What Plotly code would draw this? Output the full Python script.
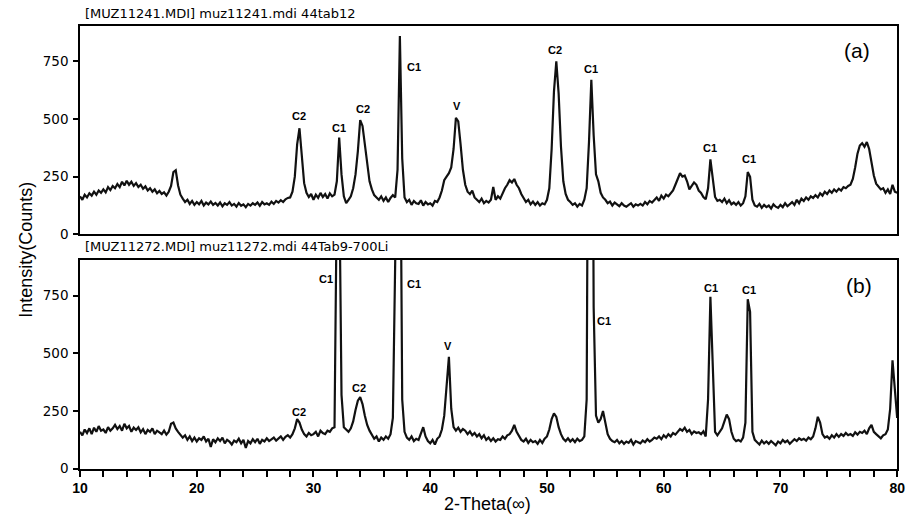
import plotly.graph_objects as go

# ---------------- data ----------------
theta_start = 10.0
theta_step = 0.2

# pattern (a): [MUZ11241.MDI] muz11241.mdi 44tab12   (one row per degree: x.0 x.2 x.4 x.6 x.8)
counts_a = [
    165, 150, 172, 160, 178,   # 10
    168, 185, 172, 190, 180,   # 11
    195, 182, 205, 192, 210,   # 12
    200, 218, 205, 228, 212,   # 13
    232, 215, 228, 210, 222,   # 14
    205, 215, 198, 208, 190,   # 15
    200, 185, 195, 178, 188,   # 16
    175, 182, 168, 185, 210,   # 17
    270, 278, 212, 172, 155,   # 18
    140, 150, 132, 145, 128,   # 19
    140, 130, 145, 125, 138,   # 20
    130, 142, 128, 136, 125,   # 21
    138, 122, 135, 128, 140,   # 22
    125, 132, 120, 136, 124,   # 23
    130, 118, 132, 125, 135,   # 24
    128, 138, 124, 140, 130,   # 25
    135, 128, 142, 132, 145,   # 26
    138, 148, 140, 152, 158,   # 27
    160, 185, 250, 390, 460,   # 28
    335, 222, 180, 162, 175,   # 29
    150, 172, 158, 180, 162,   # 30
    175, 155, 178, 165, 172,   # 31
    230, 420, 260, 165, 135,   # 32
    150, 165, 200, 260, 360,   # 33
    495, 470, 390, 300, 230,   # 34
    195, 170, 160, 150, 165,   # 35
    145, 160, 140, 158, 170,   # 36
    160, 280, 860, 330, 160,   # 37
    140, 150, 128, 145, 135,   # 38
    132, 148, 125, 140, 130,   # 39
    135, 125, 145, 140, 160,   # 40
    190, 235, 250, 265, 290,   # 41
    370, 505, 490, 390, 280,   # 42
    215, 185, 175, 190, 160,   # 43
    150, 140, 155, 135, 145,   # 44
    138, 150, 205, 150, 165,   # 45
    155, 180, 200, 215, 235,   # 46
    225, 240, 215, 200, 175,   # 47
    160, 140, 150, 130, 142,   # 48
    128, 140, 125, 135, 130,   # 49
    150, 200, 370, 620, 750,   # 50
    610, 380, 230, 175, 150,   # 51
    140, 128, 135, 120, 132,   # 52
    125, 150, 200, 400, 670,   # 53
    430, 260, 230, 180, 160,   # 54
    150, 135, 142, 125, 138,   # 55
    130, 122, 135, 125, 120,   # 56
    128, 135, 120, 130, 125,   # 57
    132, 125, 140, 130, 145,   # 58
    138, 150, 160, 145, 168,   # 59
    155, 172, 165, 180, 190,   # 60
    215, 240, 265, 250, 255,   # 61
    230, 195, 210, 225, 215,   # 62
    190, 180, 162, 152, 200,   # 63
    325, 230, 162, 145, 150,   # 64
    140, 155, 135, 148, 130,   # 65
    138, 128, 140, 125, 135,   # 66
    165, 270, 250, 150, 125,   # 67
    120, 132, 115, 128, 118,   # 68
    125, 112, 130, 120, 115,   # 69
    128, 118, 135, 122, 130,   # 70
    140, 128, 150, 135, 155,   # 71
    145, 160, 150, 165, 158,   # 72
    170, 160, 178, 168, 185,   # 73
    175, 190, 180, 195, 185,   # 74
    198, 190, 205, 200, 210,   # 75
    215, 240, 290, 350, 385,   # 76
    395, 380, 400, 370, 310,   # 77
    255, 220, 205, 195, 200,   # 78
    180, 195, 175, 215, 185,   # 79
    180,                       # 80
]

# pattern (b): [MUZ11272.MDI] muz11272.mdi 44Tab9-700Li
counts_b = [
    160, 145, 170, 155, 175,   # 10
    150, 178, 160, 185, 165,   # 11
    170, 155, 180, 165, 175,   # 12
    190, 172, 185, 165, 195,   # 13
    175, 185, 160, 178, 168,   # 14
    180, 158, 172, 150, 168,   # 15
    160, 175, 150, 165, 158,   # 16
    150, 165, 148, 160, 195,   # 17
    200, 175, 160, 148, 135,   # 18
    145, 125, 140, 120, 135,   # 19
    118, 132, 125, 140, 118,   # 20
    130, 95, 128, 115, 132,    # 21
    120, 135, 110, 125, 118,   # 22
    105, 122, 115, 130, 110,   # 23
    125, 90, 120, 110, 128,    # 24
    115, 130, 108, 125, 118,   # 25
    132, 120, 128, 135, 122,   # 26
    130, 140, 125, 138, 145,   # 27
    135, 150, 175, 215, 200,   # 28
    170, 150, 140, 155, 145,   # 29
    150, 160, 140, 165, 155,   # 30
    150, 165, 160, 175, 180,   # 31
    1200, 1300, 320, 180, 168, # 32
    160, 175, 205, 255, 295,   # 33
    310, 280, 230, 190, 165,   # 34
    150, 130, 140, 118, 135,   # 35
    125, 140, 130, 150, 220,   # 36
    900, 2000, 1800, 300, 160, # 37
    135, 125, 140, 120, 130,   # 38
    125, 150, 180, 140, 120,   # 39
    110, 125, 105, 130, 140,   # 40
    170, 230, 380, 485, 260,   # 41
    180, 165, 178, 160, 172,   # 42
    165, 150, 162, 145, 155,   # 43
    140, 150, 132, 145, 125,   # 44
    135, 120, 132, 118, 128,   # 45
    125, 140, 130, 145, 150,   # 46
    165, 190, 160, 140, 125,   # 47
    118, 130, 112, 125, 115,   # 48
    120, 108, 125, 112, 130,   # 49
    140, 170, 215, 240, 225,   # 50
    180, 150, 130, 120, 132,   # 51
    118, 128, 115, 130, 120,   # 52
    125, 140, 300, 2500, 3000, # 53
    700, 230, 200, 215, 250,   # 54
    195, 150, 130, 120, 115,   # 55
    125, 110, 120, 108, 118,   # 56
    112, 125, 105, 120, 115,   # 57
    110, 122, 115, 128, 118,   # 58
    125, 135, 130, 140, 128,   # 59
    145, 135, 150, 140, 155,   # 60
    148, 160, 172, 165, 178,   # 61
    160, 168, 150, 162, 155,   # 62
    158, 150, 162, 140, 300,   # 63
    745, 480, 160, 145, 160,   # 64
    175, 205, 235, 215, 160,   # 65
    130, 120, 125, 118, 135,   # 66
    200, 735, 680, 160, 125,   # 67
    115, 105, 122, 110, 118,   # 68
    108, 120, 112, 102, 118,   # 69
    110, 125, 115, 122, 108,   # 70
    118, 128, 120, 132, 125,   # 71
    130, 122, 135, 128, 140,   # 72
    175, 225, 200, 150, 135,   # 73
    140, 130, 145, 135, 150,   # 74
    138, 150, 142, 155, 145,   # 75
    150, 142, 158, 148, 160,   # 76
    155, 165, 150, 175, 190,   # 77
    160, 150, 140, 132, 145,   # 78
    150, 170, 260, 470, 330,   # 79
    220,                       # 80
]

two_theta = [round(theta_start + i * theta_step, 1) for i in range(len(counts_a))]

title_a = "[MUZ11241.MDI] muz11241.mdi 44tab12"
title_b = "[MUZ11272.MDI] muz11272.mdi 44Tab9-700Li"
panel_a = "(a)"
panel_b = "(b)"
y_title = "Intensity(Counts)"
x_title = "2-Theta(\u221e)"
y_tick_vals = [0, 250, 500, 750]
y_tick_text = ["0", "250", "500", "750"]

# phase labels: (text, 2-theta of the peak)
phases_a = [("C2", 28.74), ("C1", 32.19), ("C2", 34.2), ("C1", 38.58), ("V", 42.3),
            ("C2", 50.7), ("C1", 53.8), ("C1", 64.0), ("C1", 67.3)]
phases_b = [("C2", 28.74), ("C1", 31.03), ("C2", 33.93), ("C1", 38.6), ("V", 41.55),
            ("C1", 54.87), ("C1", 64.05), ("C1", 67.3)]

# ---------------- layout helpers ----------------
W, H = 915, 524
FONT = "Liberation Sans, Arial, sans-serif"
FONT_WIDE = "DejaVu Sans, Liberation Sans, sans-serif"
X0, X1 = 73.3, 905.0
TOP_A, BOT_A = 26.0, 238.0
TOP_B, BOT_B = 264.0, 476.0


def px(x, y):
    return x / W, 1 - y / H


fig = go.Figure()
line_style = dict(color="#111111", width=2.2)
fig.add_trace(go.Scatter(x=two_theta, y=counts_a, mode="lines", line=line_style,
                         xaxis="x2", yaxis="y2", showlegend=False, hoverinfo="skip"))
fig.add_trace(go.Scatter(x=two_theta, y=counts_b, mode="lines", line=line_style,
                         xaxis="x", yaxis="y", showlegend=False, hoverinfo="skip"))

axis_common = dict(showline=True, linecolor="black", linewidth=1.6, mirror=True,
                   showgrid=False, zeroline=False)
xdom = [X0 / W, X1 / W]

y_axis = dict(axis_common, range=[0, 905], tickvals=y_tick_vals, ticktext=y_tick_text,
              ticks="outside", ticklen=5, tickwidth=1.5, tickcolor="black",
              tickfont=dict(family=FONT_WIDE, size=13.5, color="black"), ticklabelstandoff=2)

fig.update_layout(
    width=W, height=H,
    margin=dict(l=0, r=0, t=0, b=0),
    paper_bgcolor="white", plot_bgcolor="white",
    xaxis=dict(axis_common, domain=xdom, range=[10, 80], anchor="y",
               tick0=10, dtick=10, ticks="outside", ticklen=6, tickwidth=1.5,
               tickcolor="black",
               tickfont=dict(family=FONT, size=14, color="black", weight="bold"),
               minor=dict(dtick=2, ticks="outside", ticklen=6, tickwidth=1.5,
                          tickcolor="black", showgrid=False)),
    xaxis2=dict(axis_common, domain=xdom, range=[10, 80], anchor="y2",
                showticklabels=False, ticks=""),
    yaxis=dict(y_axis, domain=[1 - BOT_B / H, 1 - TOP_B / H], anchor="x"),
    yaxis2=dict(y_axis, domain=[1 - BOT_A / H, 1 - TOP_A / H], anchor="x2"),
)

ann = []


def paper_text(text, x, y, size, family=FONT, xanchor="center", angle=0, bold=False):
    xx, yy = px(x, y)
    ann.append(dict(text=text, x=xx, y=yy, xref="paper", yref="paper",
                    xanchor=xanchor, yanchor="middle", showarrow=False, textangle=angle,
                    font=dict(family=family, size=size, color="black",
                              weight="bold" if bold else "normal")))


paper_text(title_a, 76, 14, 13, family=FONT_WIDE, xanchor="left")
paper_text(title_b, 76, 250, 13, family=FONT_WIDE, xanchor="left")
paper_text(panel_a, 864, 51, 21)
paper_text(panel_b, 866, 290, 21)
paper_text(y_title, 18, 254, 18, angle=-90)
paper_text(x_title, 488, 512, 18)

# label heights above the baseline for each peak label (counts)
label_y_a = [513, 462, 543, 727, 556, 799, 718, 376, 325]
label_y_b = [246, 822, 350, 801, 530, 640, 782, 776]
for (txt, t), yv in zip(phases_a, label_y_a):
    ann.append(dict(text=txt, x=t, y=yv, xref="x2", yref="y2", showarrow=False,
                    font=dict(family=FONT, size=11, color="black", weight="bold")))
for (txt, t), yv in zip(phases_b, label_y_b):
    ann.append(dict(text=txt, x=t, y=yv, xref="x", yref="y", showarrow=False,
                    font=dict(family=FONT, size=11, color="black", weight="bold")))

fig.update_layout(annotations=ann)
fig.write_html("out.html")
